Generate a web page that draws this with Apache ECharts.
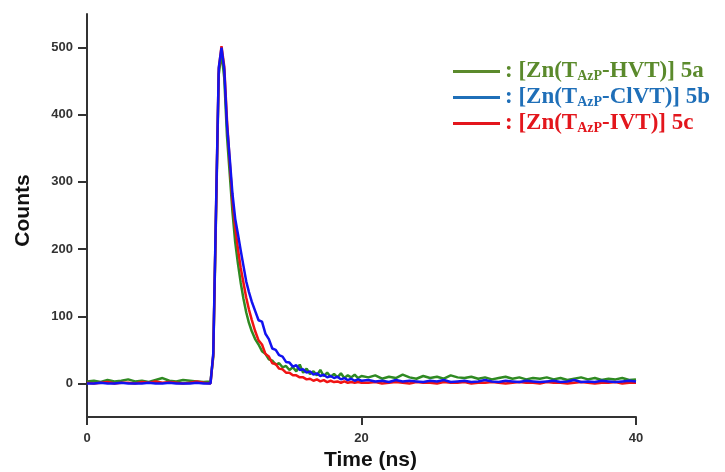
<!DOCTYPE html>
<html>
<head>
<meta charset="utf-8">
<script src="https://cdn.jsdelivr.net/npm/echarts@6/dist/echarts.min.js"></script>
<style>html,body{margin:0;padding:0;background:#fff}#chart{width:725px;height:472px}</style>
</head>
<body>
<div id="chart"></div>
<script>
// Time axis (ns), shared by all three decay curves
var timeNs = [0,0.5,1,1.5,2,2.5,3,3.5,4,4.5,5,5.5,6,6.5,7,7.5,8,8.5,9,
  9.2,9.4,9.6,9.8,
  10,10.2,10.4,10.6,10.8,11,11.2,11.4,11.6,11.8,12,
  12.25,12.5,12.75,13,13.25,13.5,13.75,14,14.25,14.5,14.75,15,15.25,15.5,15.75,16,
  16.25,16.5,16.75,17,17.25,17.5,17.75,18,18.25,18.5,18.75,19,19.25,19.5,19.75,20,
  20.5,21,21.5,22,22.5,23,23.5,24,24.5,25,25.5,26,26.5,27,27.5,28,28.5,29,29.5,30,
  30.5,31,31.5,32,32.5,33,33.5,34,34.5,35,35.5,36,36.5,37,37.5,38,38.5,39,39.5,40];

// [Zn(TAzP-HVT)] 5a  (green)
var counts5a = [3,4,2,5,3,4,6,3,4,2,5,8,4,3,5,4,3,2,3,
  40,250,460,492,
  455,368,312,255,210,178,150,126,106,90,78,
  66,58,48,44,36,34,28,30,24,26,20,24,18,28,16,22,14,18,12,20,11,16,10,14,9,15,8,12,9,13,8,11,
  9,12,7,10,8,13,9,7,11,8,10,7,12,9,8,10,7,9,6,8,10,7,9,6,8,7,9,6,8,5,7,9,6,8,5,7,6,8,5,6];

// [Zn(TAzP-ClVT)] 5b  (blue)
var counts5b = [0,0,1,0,0,1,0,0,0,1,0,0,1,0,0,0,1,0,0,
  45,260,470,500,
  468,385,335,282,245,222,198,175,152,136,122,
  108,94,92,74,66,52,50,42,40,32,31,25,27,20,21,16,18,13,15,11,13,9,11,8,10,6,8,5,7,4,6,4,
  5,3,4,2,5,3,4,3,2,4,3,5,2,3,4,2,3,5,3,2,4,3,2,4,3,2,3,4,2,3,5,2,3,2,4,3,2,3,4,3];

// [Zn(TAzP-IVT)] 5c  (red)
var counts5c = [1,0,1,2,0,1,1,0,2,1,3,1,2,1,0,1,3,1,0,
  42,255,468,502,
  472,392,330,272,232,200,172,150,128,110,95,
  78,64,58,44,40,30,29,22,21,16,16,12,12,9,9,6,7,4,6,3,5,2,4,2,3,1,3,1,2,1,2,1,
  1,2,0,1,2,1,0,2,1,1,0,2,1,1,2,0,1,1,2,1,0,1,2,1,1,0,2,1,1,0,1,2,1,0,1,1,2,0,1,1];

var seriesNames = [': [Zn(TAzP-HVT)] 5a', ': [Zn(TAzP-ClVT)] 5b', ': [Zn(TAzP-IVT)] 5c'];
var yTickValues = [0,100,200,300,400,500];
var xTickValues = [0,20,40];

function pairs(vals){ return timeNs.map(function(t,i){ return [t, vals[i]]; }); }

var lineColors = ['#2f8a22', '#1212f0', '#f01414'];
var legendColors = ['#5b8a2c', '#1f6fb8', '#e3161c'];

var chart = echarts.init(document.getElementById('chart'), null, {renderer:'canvas'});
chart.setOption({
  animation: false,
  backgroundColor: '#ffffff',
  grid: {left: 87, right: 89, top: 14, bottom: 55, containLabel: false, outerBoundsMode: 'none'},
  legend: {
    orient: 'vertical', left: 453, top: 60, padding: 0,
    itemWidth: 47, itemHeight: 3, itemGap: 3, icon: 'rect',
    data: [
      {name: seriesNames[0], itemStyle:{color:legendColors[0]}, textStyle:{color:legendColors[0]}},
      {name: seriesNames[1], itemStyle:{color:legendColors[1]}, textStyle:{color:legendColors[1]}},
      {name: seriesNames[2], itemStyle:{color:legendColors[2]}, textStyle:{color:legendColors[2]}}
    ],
    formatter: function(n){ return n.replace('TAzP', 'T{s|AzP}'); },
    textStyle: {
      fontFamily: 'Liberation Serif', fontWeight: 'bold', fontSize: 23, lineHeight: 23,
      rich: { s: {fontFamily: 'Liberation Serif', fontWeight: 'bold', fontSize: 14, lineHeight: 12, verticalAlign: 'bottom'} }
    }
  },
  xAxis: {
    type: 'value', min: 0, max: 40, interval: 20,
    name: 'Time (ns)', nameLocation: 'middle', nameGap: 33,
    nameTextStyle: {fontFamily: 'Liberation Sans', fontWeight: 'bold', fontSize: 21, color: '#111', padding: [0,0,0,18]},
    axisLine: {onZero: false, lineStyle: {color: '#333', width: 2}},
    axisTick: {show: true, length: 8, lineStyle: {color: '#333', width: 2}, customValues: xTickValues},
    axisLabel: {color: '#333', fontFamily: 'Liberation Sans', fontWeight: 'bold', fontSize: 13, margin: 15, customValues: xTickValues},
    splitLine: {show: false}
  },
  yAxis: {
    type: 'value', min: -50, max: 550, interval: 50,
    name: 'Counts', nameLocation: 'middle', nameGap: 53, nameRotate: 90,
    nameTextStyle: {fontFamily: 'Liberation Sans', fontWeight: 'bold', fontSize: 21, color: '#111', padding: [0,0,0,10]},
    axisLine: {show: true, lineStyle: {color: '#333', width: 2}},
    axisTick: {show: true, length: 9, lineStyle: {color: '#333', width: 2}, customValues: yTickValues},
    axisLabel: {color: '#333', fontFamily: 'Liberation Sans', fontWeight: 'bold', fontSize: 13, margin: 14, customValues: yTickValues},
    splitLine: {show: false}
  },
  series: [
    {name: seriesNames[0], type: 'line', data: pairs(counts5a), showSymbol: false, lineStyle: {color: lineColors[0], width: 2.5}, itemStyle:{color: lineColors[0]}, z: 2},
    {name: seriesNames[2], type: 'line', data: pairs(counts5c), showSymbol: false, lineStyle: {color: lineColors[2], width: 2.5}, itemStyle:{color: lineColors[2]}, z: 3},
    {name: seriesNames[1], type: 'line', data: pairs(counts5b), showSymbol: false, lineStyle: {color: lineColors[1], width: 2.5}, itemStyle:{color: lineColors[1]}, z: 4}
  ]
});
</script>
</body>
</html>
